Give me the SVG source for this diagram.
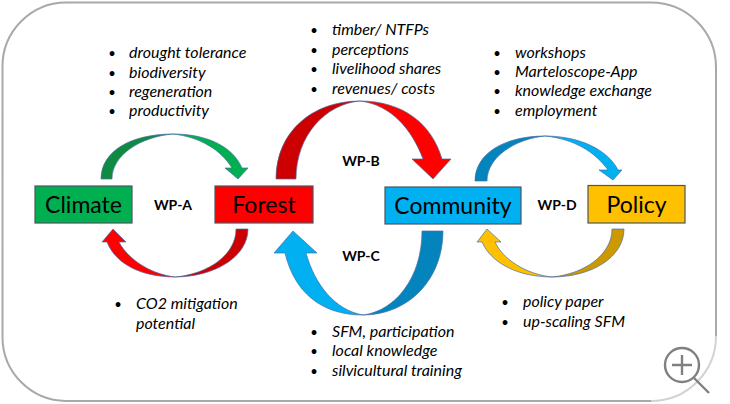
<svg xmlns="http://www.w3.org/2000/svg" width="730" height="404" viewBox="0 0 730 404">
<style>
text{font-family:Lato,Carlito,"Open Sans",sans-serif;fill:#000}
.n{font-size:23px;text-anchor:middle}
.w{font-size:14px;font-weight:700;text-anchor:middle}
.b{font-size:16px;font-style:italic}
.d{font-size:13px;text-anchor:middle}
.box{stroke:#4d5560;stroke-width:1.2}
.a{stroke:#4a6fa5;stroke-width:.7;stroke-linejoin:round}
.mag{fill:none;stroke:#808080;stroke-width:2.4}
</style>
<rect x="0" y="0" width="730" height="404" fill="#fff"/>
<g id="frame">
<path d="M66,2.500H651A65,65 0 0 1 716,67.500V336" fill="none" stroke="#a9a9a9" stroke-width="2"/>
<path d="M716,336A65,65 0 0 1 651,401" fill="none" stroke="#d2d2d2" stroke-width="2"/>
<path d="M651,401H66A64,64 0 0 1 2.500,337V67.500A64,64 0 0 1 66,2.500" fill="none" stroke="#a9a9a9" stroke-width="2"/>
</g>
<g id="connectors">
<path class="a" fill="#0e8a43" d="M101,179C101,151 131,134 173,134C140,137 112,155 112,179Z"/>
<path class="a" fill="#00b050" d="M173,134C208,134 233,147 242,168L248,168L238,179L225,168L232,168C221,150 200,137 173,134Z"/>
<path class="a" fill="#cc0000" d="M248,229C248,257 214,277 175,277C208,274 236,255 236,229Z"/>
<path class="a" fill="#ff0000" d="M175,277C140,277 115,263 107,242L102,242L113,229L126,242L119,242C128,259 150,274 175,277Z"/>
<path class="a" fill="#cc0000" d="M276,179C276,132 312,101 360,101C325,104 296,136 296,179Z"/>
<path class="a" fill="#ff0000" d="M360,101C403,101 432,124 442,159L451,159L433,179L412,159L423,159C412,130 392,105 360,101Z"/>
<path class="a" fill="#0484bc" d="M443,231C443,280 408,315 363,315C395,311 422,278 422,231Z"/>
<path class="a" fill="#00b0f0" d="M363,315C320,315 294,291 285,253L274,253L293,231L317,253L306,253C315,285 335,310 363,315Z"/>
<path class="a" fill="#0484bc" d="M475,181C475,153 505,136 545,136C515,139 487,157 487,181Z"/>
<path class="a" fill="#00b0f0" d="M545,136C580,136 608,150 618,170L622,170L613,180L599,170L608,170C596,153 575,139 545,136Z"/>
<path class="a" fill="#cc9900" d="M624,229C624,257 592,277 552,277C584,274 612,255 612,229Z"/>
<path class="a" fill="#ffc000" d="M552,277C518,277 491,263 482,242L477,242L487,229L501,242L495,242C503,259 525,274 552,277Z"/>
</g>
<g id="climate"><rect class="box" x="35" y="186" width="97" height="37" fill="#00b050"/><text class="n" x="83.500" y="213">Climate</text></g>
<g id="forest"><rect class="box" x="215" y="186" width="98" height="37" fill="#ff0000"/><text class="n" x="264" y="213">Forest</text></g>
<g id="community"><rect class="box" x="385" y="187" width="136" height="37" fill="#00b0f0"/><text class="n" x="453" y="214">Community</text></g>
<g id="policy"><rect class="box" x="588" y="185.500" width="97" height="37.500" fill="#ffc000"/><text class="n" x="636.500" y="213">Policy</text></g>
<g id="wp-labels">
<text class="w" x="173" y="210">WP-A</text>
<text class="w" x="361" y="166">WP-B</text>
<text class="w" x="361" y="261">WP-C</text>
<text class="w" x="557" y="210">WP-D</text>
</g>
<g id="list-a">
<text class="d" x="112" y="58">•</text><text class="b" x="129" y="58">drought tolerance</text>
<text class="d" x="112" y="78">•</text><text class="b" x="129" y="78">biodiversity</text>
<text class="d" x="112" y="97">•</text><text class="b" x="129" y="97">regeneration</text>
<text class="d" x="112" y="116">•</text><text class="b" x="129" y="116">productivity</text>
</g>
<g id="list-b">
<text class="d" x="314" y="35">•</text><text class="b" x="332" y="35">timber/ NTFPs</text>
<text class="d" x="314" y="55">•</text><text class="b" x="332" y="55">perceptions</text>
<text class="d" x="314" y="74">•</text><text class="b" x="332" y="74">livelihood shares</text>
<text class="d" x="314" y="94">•</text><text class="b" x="332" y="94">revenues/ costs</text>
</g>
<g id="list-d">
<text class="d" x="497" y="58">•</text><text class="b" x="515" y="58">workshops</text>
<text class="d" x="497" y="77">•</text><text class="b" x="515" y="77">Marteloscope-App</text>
<text class="d" x="497" y="96">•</text><text class="b" x="515" y="96">knowledge exchange</text>
<text class="d" x="497" y="116">•</text><text class="b" x="515" y="116">employment</text>
</g>
<g id="list-a2">
<text class="d" x="118" y="309">•</text><text class="b" x="136" y="309">CO2 mitigation</text>
<text class="b" x="136" y="329">potential</text>
</g>
<g id="list-c">
<text class="d" x="314" y="337">•</text><text class="b" x="332" y="337">SFM, participation</text>
<text class="d" x="314" y="356">•</text><text class="b" x="332" y="356">local knowledge</text>
<text class="d" x="314" y="376">•</text><text class="b" x="332" y="376">silvicultural training</text>
</g>
<g id="list-d2">
<text class="d" x="505" y="307">•</text><text class="b" x="523" y="307">policy paper</text>
<text class="d" x="505" y="327">•</text><text class="b" x="523" y="327">up-scaling SFM</text>
</g>
<g id="zoom-icon">
<circle cx="682" cy="365" r="17" fill="#fff" fill-opacity=".6" class="mag"/>
<path class="mag" d="M672,365H692M682,355V375M694,378L709,393"/>
</g>
</svg>
